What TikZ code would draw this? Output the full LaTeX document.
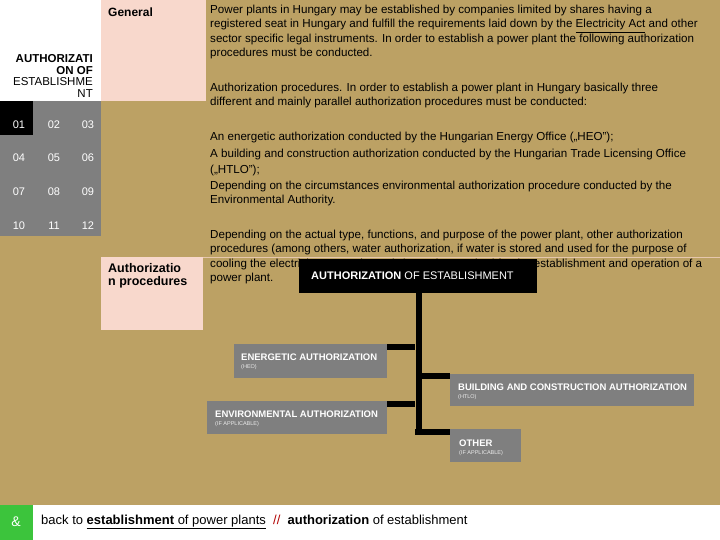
\documentclass[tikz,border=0pt]{standalone}
\usepackage{fontspec}
\setmainfont{Liberation Sans}
\begin{document}
\begin{tikzpicture}[x=1pt,y=-1pt,
  body/.style={anchor=west,inner sep=0pt,font=\fontsize{11.6}{13}\selectfont},
  num/.style={text=white,inner sep=0pt,font=\fontsize{11}{12}\selectfont},
  gbox/.style={fill=boxgray,anchor=north west,inner sep=0pt},
  wire/.style={draw=black,line width=6pt},
  btitle/.style={text=white,font=\bfseries\fontsize{9.5}{11}\selectfont,anchor=west,inner sep=0pt},
  bsub/.style={text=white!85!gray,font=\fontsize{5.5}{6}\selectfont,anchor=west,inner sep=0pt}]
\definecolor{tan}{HTML}{BCA164}
\definecolor{pinkb}{HTML}{F8D8CC}
\definecolor{boxgray}{HTML}{7F7F7F}
\definecolor{greenb}{HTML}{3CC43C}
\useasboundingbox (0,0) rectangle (720,540);
\fill[tan] (0,0) rectangle (720,540);
\fill[white] (0,0) rectangle (101,101);
\fill[pinkb] (101,0) rectangle (203,101);
\fill[pinkb] (203,0) rectangle (206,101);
\fill[boxgray] (0,101) rectangle (101,236);
\fill[black] (0,101) rectangle (33,135);
\fill[pinkb] (101,257) rectangle (203,330);
\draw[pinkb!70!tan] (203,257) -- (720,257);
\fill[white] (0,505) rectangle (720,540);
\fill[greenb] (0,505) rectangle (33,540);
% left texts
\node[anchor=west,inner sep=0pt,font=\bfseries\fontsize{12}{13}\selectfont] (gen) at (108,12) {General};
\node[anchor=east,inner sep=0pt,align=right,font=\fontsize{11.5}{11.5}\selectfont] (left) at (93,76) {\textbf{AUTHORIZATI}\\\textbf{ON OF}\\ESTABLISHME\\NT};
\node[anchor=north west,inner sep=0pt,align=left,font=\bfseries\fontsize{12.5}{13}\selectfont] (ap) at (108,263) {Authorizatio\\n procedures};
\foreach \n/\x/\y in {01/19/125,02/54/125,03/88/125,04/19/158,05/54/158,06/88/158,07/19/192,08/54/192,09/88/192,10/19/226,11/54/226,12/88/226}
  \node[num] (n\n) at (\x,\y) {\n};
\node[text=white,font=\fontsize{14}{15}\selectfont\rmfamily] (amp) at (16,522) {\&};
\node[anchor=west,inner sep=0pt,font=\fontsize{13}{14}\selectfont] (foot) at (41,522) {back to \underline{\textbf{establishment} of power plants} \ {\color{red!70!black}//}\ \ \textbf{authorization} of establishment};
% body
\node[body] (t1) at (210,11) {Power plants in Hungary may be established by companies limited by shares having a};
\node[body] (t2) at (210,26) {registered seat in Hungary and fulfill the requirements laid down by the \underline{Electricity Act} and other};
\node[body] (t3) at (210,40) {sector specific legal instruments. In order to establish a power plant the following authorization};
\node[body] (t4) at (210,54) {procedures must be conducted.};
\node[body] (t5) at (210,89) {Authorization procedures. In order to establish a power plant in Hungary basically three};
\node[body] (t6) at (210,103) {different and mainly parallel authorization procedures must be conducted:};
\node[body] (t7) at (210,138) {An energetic authorization conducted by the Hungarian Energy Office („HEO”);};
\node[body] (t8) at (210,155) {A building and construction authorization conducted by the Hungarian Trade Licensing Office};
\node[body] (t9) at (210,170) {(„HTLO”);};
\node[body] (t10) at (210,187) {Depending on the circumstances environmental authorization procedure conducted by the};
\node[body] (t11) at (210,201) {Environmental Authority.};
\node[body] (t12) at (210,236) {Depending on the actual type, functions, and purpose of the power plant, other authorization};
\node[body] (t13) at (210,250) {procedures (among others, water authorization, if water is stored and used for the purpose of};
\node[body] (t14) at (210,265) {cooling the electricity generating units) may be required for the establishment and operation of a};
\node[body] (t15) at (210,279) {power plant.};
% chart
\node[fill=black,anchor=north west,inner sep=0pt,minimum width=238,minimum height=34] (root) at (299,259) {};
\node[btitle,font=\fontsize{11}{12}\selectfont] (roott) at (311,276) {\textbf{AUTHORIZATION} OF ESTABLISHMENT};
\coordinate (top) at (418.5,293);
\coordinate (bot) at (418.5,434);
\draw[wire] (top) -- (bot);
\node[gbox,minimum width=153,minimum height=34] (en) at (234,344) {};
\node[gbox,minimum width=244,minimum height=32] (bu) at (450,374) {};
\node[gbox,minimum width=180,minimum height=33] (env) at (207,401) {};
\node[gbox,minimum width=71,minimum height=33] (oth) at (450,429) {};
\draw[wire] (en.east |- 0,347) -- (415,347);
\draw[wire] (422,376) -- (bu.west |- 0,376);
\draw[wire] (env.east |- 0,404) -- (415,404);
\draw[wire] (415,431.5) -- (oth.west |- 0,431.5);
\node[btitle] (ent) at (241,357) {ENERGETIC AUTHORIZATION};
\node[bsub] (ens) at (241,367) {(HEO)};
\node[btitle] (but) at (458,387) {BUILDING AND CONSTRUCTION AUTHORIZATION};
\node[bsub] (bus) at (458,397) {(HTLO)};
\node[btitle] (envt) at (215,414) {ENVIRONMENTAL AUTHORIZATION};
\node[bsub] (envs) at (215,424) {(IF APPLICABLE)};
\node[btitle] (otht) at (459,443) {OTHER};
\node[bsub] (oths) at (459,453) {(IF APPLICABLE)};
\end{tikzpicture}
\end{document}
